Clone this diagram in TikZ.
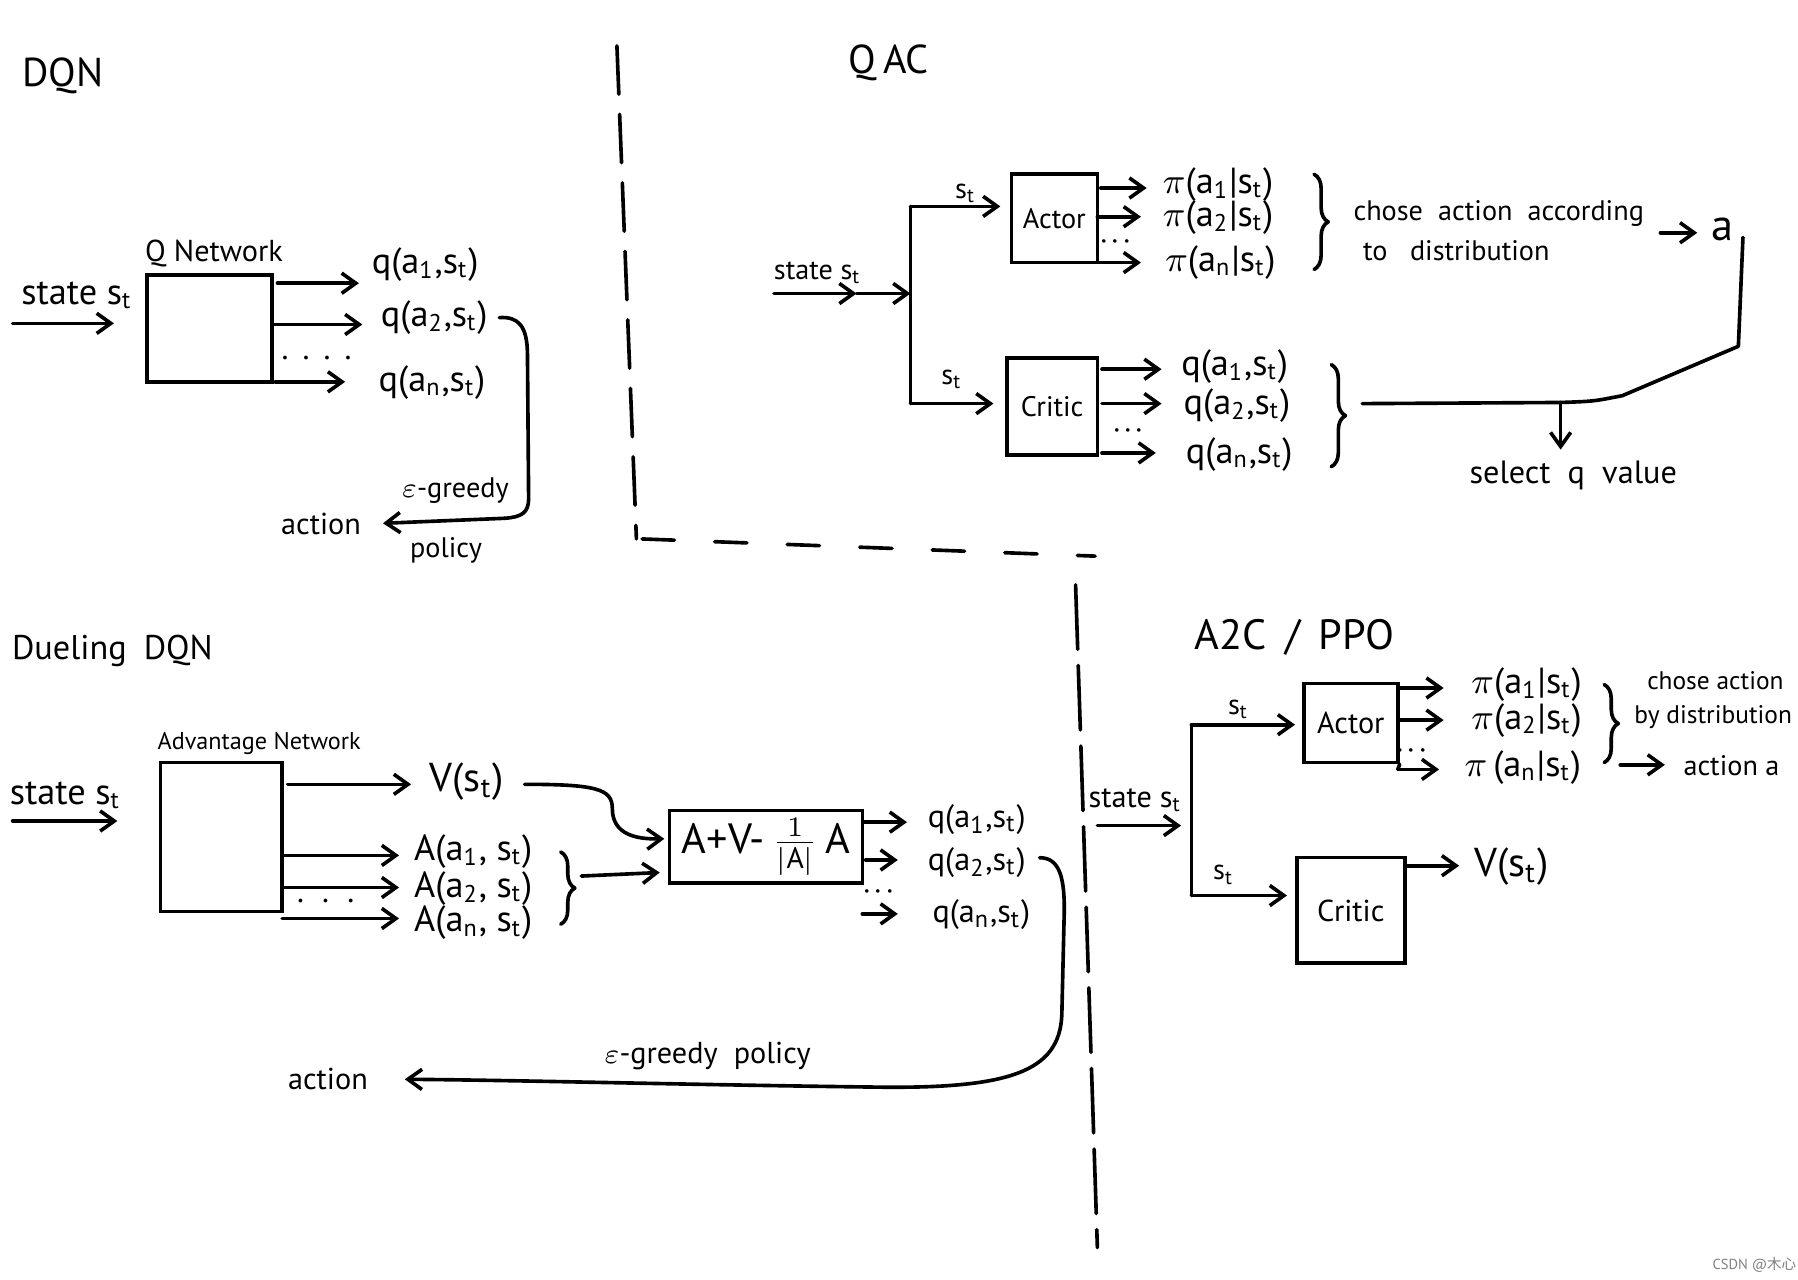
\documentclass[tikz,border=0pt]{standalone}
\usepackage{fontspec}
\setmainfont{PT Sans}
\newfontfamily\cjkfont{Noto Sans CJK SC}
\usetikzlibrary{arrows.meta,decorations.pathreplacing,calc}
\begin{document}
\begin{tikzpicture}[x=0.01cm,y=-0.01cm,
  ln/.style={line width=0.9pt, line cap=round, line join=round},
  arr/.style={ln,-{Straight Barb[length=3.5pt,width=5pt]}},
  netbox/.style={draw, line width=0.9pt, inner sep=0pt},
  lbl/.style={inner sep=1pt, font=\fontsize{9}{10}\selectfont},
  mid/.style={inner sep=1pt, font=\fontsize{8}{9}\selectfont},
  sml/.style={inner sep=1pt, font=\fontsize{7.5}{9}\selectfont},
  xsm/.style={inner sep=1pt, font=\fontsize{7}{8}\selectfont},
  tny/.style={inner sep=1pt, font=\fontsize{6.3}{7.5}\selectfont},
  ttl/.style={inner sep=1pt, font=\fontsize{10}{12}\selectfont},
  dts/.style={inner sep=0pt, font=\fontsize{8}{9}\selectfont},
  brc/.style={ln, decorate, decoration={brace, amplitude=3.5pt}},
  divline/.style={line width=0.9pt, line cap=round},
]
\useasboundingbox (0,0) rectangle (1568,1116);
\fill[white] (0,0) rectangle (1568,1116);

% ---------------- dividers ----------------
\coordinate (d1) at (538,40);
\coordinate (d2) at (555,470);
\coordinate (d2b) at (560,470);
\coordinate (d3) at (955,485);
\coordinate (d4) at (938,510);
\coordinate (d5) at (957,1088);
\draw[divline, dash pattern=on 12pt off 5pt] (d1) -- (d2);
\draw[divline, dash pattern=on 8pt off 10pt] (d2b) -- (d3);
\draw[divline, dash pattern=on 16pt off 4pt] (d4) -- (d5);

% ---------------- DQN ----------------
\node[ttl] (tdqn) at (55,66) {DQN};
\node[lbl] (sdqn) at (67,258) {state s\textsubscript{t}};
\node[netbox, minimum width=1.09cm, minimum height=0.93cm] (qn) at (182.5,286.5) {};
\node[sml, anchor=south west] (qnl) at ($(qn.north west)+(-4,-1)$) {Q Network};
\coordinate (sdqn0) at (11,282);
\draw[arr, shorten >=0.27cm] (sdqn0) -- (sdqn0 -| qn.west);

\node[lbl, anchor=west] (qa1) at (320,231) {q(a\textsubscript{1},s\textsubscript{t})};
\node[lbl, anchor=west] (qa2) at (328,277) {q(a\textsubscript{2},s\textsubscript{t})};
\node[lbl, anchor=west] (qan) at (326,334) {q(a\textsubscript{n},s\textsubscript{t})};
\coordinate (qo1) at (242,247);
\coordinate (qo2) at (238,283);
\coordinate (qo3) at (240,333);
\draw[arr, shorten >=0.07cm] (qo1) -- (qo1 -| qa1.west);
\draw[arr, shorten >=0.12cm] (qo2) -- (qo2 -| qa2.west);
\draw[arr, shorten >=0.25cm] (qo3) -- (qo3 -| qan.west);
\node[dts] (qdots) at (276,312) {.\hspace{3.5pt}.\hspace{3.5pt}.\hspace{3.5pt}.};

\node[sml] (dqnact) at (280,457) {action};
\node[xsm] (eg1) at (397,428) {$\varepsilon$-greedy};
\node[xsm] (pol1) at (389,480) {policy};
\coordinate (qc1) at (440,452);
\draw[ln] ($(qa2.east)+(6,0)$) .. controls (452,276) and (460,284) .. (460,310)
  -- (461,435) .. controls (461,447) and (455,451) .. (qc1);
\draw[arr, shorten >=0.15cm] (qc1) -- (dqnact.east);

% ---------------- QAC ----------------
\node[ttl] (tqac) at (775,55) {Q\,AC};
\node[xsm] (sqac) at (713,238) {state s\textsubscript{t}};
\coordinate (qs0) at (675,256);
\coordinate (qsm) at (747,256);
\coordinate (qj) at (794,256);
\coordinate (qjt) at (794,180);
\coordinate (qjb) at (794,352);
\draw[arr] (qs0) -- (qsm);
\draw[arr] (qsm) -- (qj);
\draw[ln] (qjt) -- (qjb);

\node[netbox, minimum width=0.75cm, minimum height=0.77cm, font=\fontsize{7}{8}\selectfont] (qactor) at (919.5,190.5) {Actor};
\node[netbox, minimum width=0.79cm, minimum height=0.85cm, font=\fontsize{7}{8}\selectfont] (qcritic) at (917.5,354.5) {Critic};
\draw[arr, shorten >=0.08cm] (qjt) -- (qjt -| qactor.west);
\draw[arr, shorten >=0.10cm] (qjb) -- (qjb -| qcritic.west);
\node[xsm] (qst1) at (842,169) {s\textsubscript{t}};
\node[xsm] (qst2) at (830,331) {s\textsubscript{t}};

\node[lbl, anchor=west] (qpi1) at (1010,161) {$\pi$(a\textsubscript{1}|s\textsubscript{t})};
\node[lbl, anchor=west] (qpi2) at (1010,190) {$\pi$(a\textsubscript{2}|s\textsubscript{t})};
\node[lbl, anchor=west] (qpin) at (1012,229) {$\pi$(a\textsubscript{n}|s\textsubscript{t})};
\coordinate (qao1) at (960,164);
\coordinate (qao2) at (957,189);
\coordinate (qao3) at (957,229);
\draw[arr, shorten >=0.10cm] (qao1) -- (qao1 -| qpi1.west);
\draw[arr, shorten >=0.15cm] (qao2) -- (qao2 -| qpi2.west);
\draw[arr, shorten >=0.17cm] (qao3) -- (qao3 -| qpin.west);
\node[dts] (qadots) at (973,211) {$\cdot\!\cdot\!\cdot$};
\coordinate (qb1t) at (1146,152);
\coordinate (qb1b) at (1146,235);
\draw[brc] (qb1t) -- (qb1b);
\node[xsm] (qch1) at (1307,186) {chose\ \ action\ \ according};
\node[xsm] (qch2) at (1270,219) {to\ \ \ distribution};
\node[font=\fontsize{11}{12}\selectfont, inner sep=1pt] (qa) at (1502,200) {a};
\coordinate (qaa0) at (1448,203);
\draw[arr, shorten >=0.08cm] (qaa0) -- (qaa0 -| qa.west);

\node[lbl, anchor=west] (qq1) at (1026,320) {q(a\textsubscript{1},s\textsubscript{t})};
\node[lbl, anchor=west] (qq2) at (1028,354) {q(a\textsubscript{2},s\textsubscript{t})};
\node[lbl, anchor=west] (qqn) at (1030,396) {q(a\textsubscript{n},s\textsubscript{t})};
\coordinate (qco1) at (961,322);
\coordinate (qco2) at (961,352);
\coordinate (qco3) at (961,395);
\draw[arr, shorten >=0.13cm] (qco1) -- (qco1 -| qq1.west);
\draw[arr, shorten >=0.15cm] (qco2) -- (qco2 -| qq2.west);
\draw[arr, shorten >=0.22cm] (qco3) -- (qco3 -| qqn.west);
\node[dts] (qcdots) at (984,376) {$\cdot\!\cdot\!\cdot$};
\coordinate (qb2t) at (1161,318);
\coordinate (qb2b) at (1161,407);
\draw[brc] (qb2t) -- (qb2b);

\coordinate (qv1) at (1520,207);
\coordinate (qv2) at (1516,302);
\coordinate (qv3) at (1415,345);
\coordinate (qv4) at (1361,351);
\coordinate (qv5) at (1188,352);
\draw[ln] (qv1) -- (qv2) -- (qv3) .. controls (1390,350) .. (qv4) -- (qv5);
\node[mid] (qsel) at (1372,415) {select\ \ q\ \ value};
\draw[arr, shorten >=0.06cm] (qv4) -- (qv4 |- qsel.north);

% ---------------- Dueling DQN ----------------
\node[inner sep=1pt, font=\fontsize{8.5}{10}\selectfont] (tdd) at (98,568) {Dueling\enspace DQN};
\node[lbl] (sdd) at (57,694) {state s\textsubscript{t}};
\node[netbox, minimum width=1.06cm, minimum height=1.30cm] (adv) at (193,730) {};
\node[font=\fontsize{6}{7}\selectfont, inner sep=1pt] (advl) at (226,648) {Advantage Network};
\coordinate (sdd0) at (11,716);
\draw[arr, shorten >=0.36cm] (sdd0) -- (sdd0 -| adv.west);

\node[font=\fontsize{10}{11}\selectfont, inner sep=1pt] (dV) at (407,682) {V(s\textsubscript{t})};
\coordinate (dvo) at (251,684);
\draw[arr, shorten >=0.12cm] (dvo) -- (dvo -| dV.west);

\node[netbox, minimum width=1.68cm, minimum height=0.63cm, font=\fontsize{10.5}{11}\selectfont] (fbox) at (668,738.5) {A+V-\,$\frac{1}{|\mathrm{A}|}$\,A};
\draw[arr] ($(dV.east)+(14,2)$) .. controls (520,684) and (534,688) .. (534,705)
  .. controls (534,728) and (555,732) .. ($(fbox.west)+(-3,-7)$);

\node[lbl, anchor=west] (dA1) at (357,743) {A(a\textsubscript{1}, s\textsubscript{t})};
\node[lbl, anchor=west] (dA2) at (357,775) {A(a\textsubscript{2}, s\textsubscript{t})};
\node[lbl, anchor=west] (dAn) at (357,805) {A(a\textsubscript{n}, s\textsubscript{t})};
\coordinate (dao1) at (246,746);
\coordinate (dao2) at (246,774);
\coordinate (dao3) at (246,801);
\draw[arr, shorten >=0.09cm] (dao1) -- (dao1 -| dA1.west);
\draw[arr, shorten >=0.09cm] (dao2) -- (dao2 -| dA2.west);
\draw[arr, shorten >=0.09cm] (dao3) -- (dao3 -| dAn.west);
\node[dts] (ddots) at (284,786) {.\hspace{4.5pt}.\hspace{4.5pt}.};
\coordinate (db1t) at (489,743);
\coordinate (db1b) at (489,806);
\draw[brc] (db1t) -- (db1b);
\coordinate (dbo) at (507,764);
\draw[arr, shorten >=0.07cm] (dbo) -- ($(fbox.south west)+(0,-11)$);

\node[mid, anchor=west] (dq1) at (805,715) {q(a\textsubscript{1},s\textsubscript{t})};
\node[mid, anchor=west] (dq2) at (805,752) {q(a\textsubscript{2},s\textsubscript{t})};
\node[mid, anchor=west] (dqn) at (809,798) {q(a\textsubscript{n},s\textsubscript{t})};
\coordinate (dfo1) at (754,717);
\coordinate (dfo2) at (755,750);
\coordinate (dfo3) at (752,797);
\draw[arr, shorten >=0.14cm] (dfo1) -- (dfo1 -| dq1.west);
\draw[arr, shorten >=0.22cm] (dfo2) -- (dfo2 -| dq2.west);
\draw[arr, shorten >=0.26cm] (dfo3) -- (dfo3 -| dqn.west);
\node[dts] (dfdots) at (766,778) {$\cdot\!\cdot\!\cdot$};

\node[sml] (dact) at (286,941) {action};
\node[sml] (deg) at (617,921) {$\varepsilon$-greedy\ \ policy};
\coordinate (dc1) at (760,948);
\draw[ln] ($(dq2.east)+(8,-4)$) .. controls (924,748) and (929,765) .. (928,800)
  -- (926,885) .. controls (924,935) and (880,950) .. (dc1);
\draw[arr, shorten >=0.28cm] (dc1) .. controls (600,946) and (450,942) .. (dact.east);

% ---------------- A2C / PPO ----------------
\node[inner sep=1pt, font=\fontsize{10.5}{12}\selectfont] (ta2c) at (1129,556) {A2C\, /\, PPO};
\node[sml] (sa2c) at (990,698) {state s\textsubscript{t}};
\coordinate (as0) at (957,720);
\coordinate (aj) at (1039,720);
\coordinate (ajt) at (1039,632);
\coordinate (ajb) at (1039,781);
\draw[arr, shorten >=0.09cm] (as0) -- (aj);
\draw[ln] (ajt) -- (ajb);
\node[netbox, minimum width=0.82cm, minimum height=0.69cm, font=\fontsize{7.5}{8}\selectfont] (aactor) at (1178,630.5) {Actor};
\node[netbox, minimum width=0.94cm, minimum height=0.92cm, font=\fontsize{7.5}{8}\selectfont] (acritic) at (1178,794) {Critic};
\draw[arr, shorten >=0.06cm] (ajt) -- (ajt -| aactor.west);
\draw[arr, shorten >=0.07cm] (ajb) -- (ajb -| acritic.west);
\node[xsm] (ast1) at (1080,619) {s\textsubscript{t}};
\node[xsm] (ast2) at (1067,763) {s\textsubscript{t}};

\node[lbl, anchor=west] (api1) at (1279,597) {$\pi$(a\textsubscript{1}|s\textsubscript{t})};
\node[lbl, anchor=west] (api2) at (1279,628) {$\pi$(a\textsubscript{2}|s\textsubscript{t})};
\node[lbl, anchor=west] (apin) at (1273,669) {$\pi$\,(a\textsubscript{n}|s\textsubscript{t})};
\coordinate (aao1) at (1219,600);
\coordinate (aao2) at (1219,628);
\coordinate (aao3) at (1219,671);
\draw[ln] (aactor.south east) -- (aao3);
\draw[arr, shorten >=0.20cm] (aao1) -- (aao1 -| api1.west);
\draw[arr, shorten >=0.20cm] (aao2) -- (aao2 -| api2.west);
\draw[arr, shorten >=0.18cm] (aao3) -- (aao3 -| apin.west);
\node[dts] (aadots) at (1231,655) {$\cdot\!\cdot\!\cdot$};
\coordinate (ab1t) at (1399,597);
\coordinate (ab1b) at (1399,665);
\draw[brc] (ab1t) -- (ab1b);
\node[tny] (ach1) at (1496,594) {chose action};
\node[tny] (ach2) at (1494,625) {by distribution};
\node[xsm] (aact) at (1510,668) {action a};
\coordinate (aaa0) at (1413,667);
\draw[arr, shorten >=0.12cm] (aaa0) -- (aaa0 -| aact.west);

\node[font=\fontsize{10}{11}\selectfont, inner sep=1pt] (aV) at (1318,756) {V(s\textsubscript{t})};
\coordinate (avo) at (1227,755);
\draw[arr, shorten >=0.09cm] (avo) -- (avo -| aV.west);

% ---------------- watermark ----------------
\node[font=\fontsize{3.6}{4}\selectfont, text=gray, inner sep=0pt] (wm) at (1530,1103) {CSDN @{\cjkfont 木心}};
\end{tikzpicture}
\end{document}
